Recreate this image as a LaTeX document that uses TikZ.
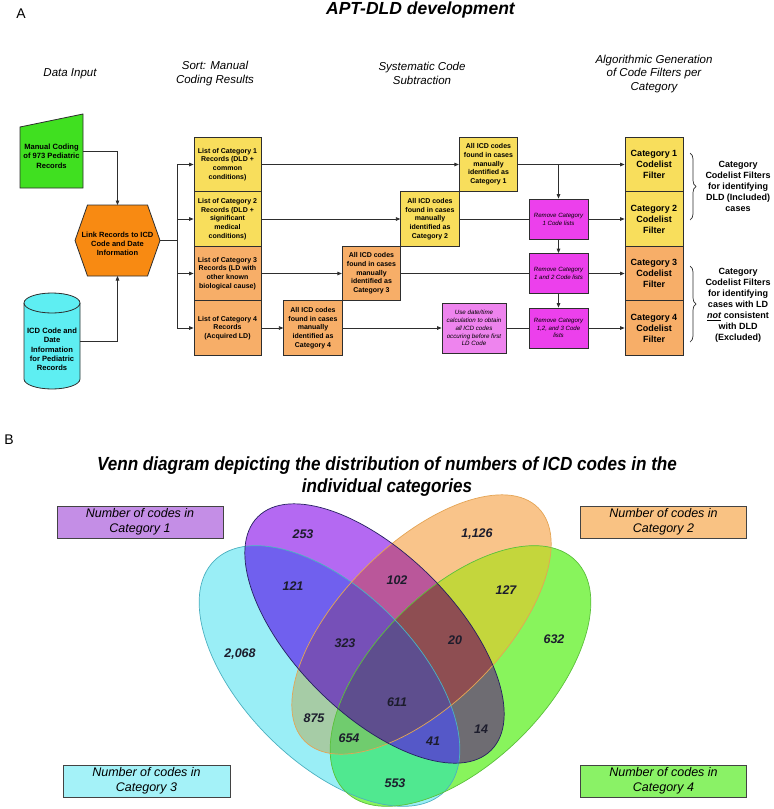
\documentclass[tikz,border=0pt]{standalone}
\usepackage{fontspec}
\setmainfont{Liberation Sans}
\newfontfamily\narrowsans[FakeStretch=0.9]{Liberation Sans}
\usetikzlibrary{arrows.meta,decorations.pathreplacing,calc}
\newcommand\setfs[2]{\fontsize{#1}{#2}\selectfont}
\definecolor{linec}{HTML}{2E2E2E}
\definecolor{yelc}{HTML}{F8DE5C}
\definecolor{orgc}{HTML}{F7AE68}
\definecolor{grnc}{HTML}{40E020}
\definecolor{hexc}{HTML}{F88A12}
\definecolor{cylc}{HTML}{5EEEF2}
\definecolor{magc}{HTML}{EC40EC}
\definecolor{pnkc}{HTML}{EE84EE}
\definecolor{cP}{HTML}{B469F2}
\definecolor{cO}{HTML}{F9C48A}
\definecolor{cC}{HTML}{9AEEF6}
\definecolor{cG}{HTML}{88F45C}
\definecolor{cPO}{HTML}{BA579A}
\definecolor{cPC}{HTML}{7060EE}
\definecolor{cPG}{HTML}{6E6C72}
\definecolor{cOC}{HTML}{A6CCA6}
\definecolor{cOG}{HTML}{C4D63C}
\definecolor{cCG}{HTML}{50E890}
\definecolor{cPOC}{HTML}{7650B8}
\definecolor{cPOG}{HTML}{8E4E52}
\definecolor{cPCG}{HTML}{5558C8}
\definecolor{cOCG}{HTML}{70CC6E}
\definecolor{cAll}{HTML}{5E4E8E}
\definecolor{eP}{HTML}{252060}
\definecolor{eO}{HTML}{E4A454}
\definecolor{eC}{HTML}{4CB0C0}
\definecolor{eG}{HTML}{5CC03C}
\definecolor{lP}{HTML}{C48EE6}
\definecolor{lO}{HTML}{F9C283}
\definecolor{lC}{HTML}{A4F2F8}
\definecolor{lG}{HTML}{8AF266}
\definecolor{numc}{HTML}{1C1C2C}
\newcommand\VP[1]{\path[#1,rotate around={-45:(374.5,633.5)}] (374.5,633.5) ellipse [x radius=165, y radius=80];}
\newcommand\VO[1]{\path[#1,rotate around={45:(421.5,624.5)}] (421.5,624.5) ellipse [x radius=165, y radius=80];}
\newcommand\VC[1]{\path[#1,rotate around={-45:(329.5,676)}] (329.5,676) ellipse [x radius=163, y radius=86];}
\newcommand\VG[1]{\path[#1,rotate around={45:(460.5,676)}] (460.5,676) ellipse [x radius=163, y radius=86];}
\begin{document}
\begin{tikzpicture}[x=1pt,y=-1pt,
  box/.style={draw=linec, line width=0.8pt, inner sep=0pt, align=center, font=\bfseries\setfs{7}{8.7}},
  lbox/.style={box, minimum width=67pt, minimum height=54.5pt},
  cbox/.style={box, minimum width=58.5pt, minimum height=54.5pt},
  fbox/.style={box, minimum width=58pt, minimum height=54.5pt, font=\bfseries\setfs{9}{11}},
  rbox/.style={box, fill=magc, minimum width=59pt, minimum height=40pt, font=\itshape\setfs{6.1}{7.8}},
  ghost/.style={inner sep=0pt, outer sep=0pt},
  shapeline/.style={draw=linec, line width=0.8pt},
  shapetext/.style={align=center, font=\bfseries\setfs{7.6}{9.3}},
  hdr/.style={align=center, font=\itshape\setfs{11.5}{13.7}},
  bracetext/.style={align=center, font=\bfseries\setfs{9}{11}},
  arr/.style={draw=linec, line width=0.8pt, -{Triangle[length=4.5pt,width=3.6pt]}},
  conn/.style={draw=linec, line width=0.8pt},
  brc/.style={draw=linec, line width=0.7pt, decorate, decoration={brace, amplitude=6pt}},
  vlab/.style={draw=linec!90, line width=0.8pt, inner sep=0pt, minimum width=166pt, minimum height=32pt, align=center, font=\itshape\setfs{12.5}{15.5}},
  vnum/.style={font=\bfseries\itshape\setfs{12.5}{14}, text=numc}
]
\useasboundingbox (0,0) rectangle (774,809);

% ---------- Part A titles ----------
\node[font=\setfs{14}{16}] (labA) at (21,14) {A};
\node[font=\bfseries\itshape\setfs{17.5}{20}] (titleA) at (420.5,10) {APT-DLD development};
\node[hdr] (h1) at (70,74) {Data Input};
\node[hdr] (h2) at (215,73.5) {Sort: Manual\\Coding Results};
\node[hdr] (h3) at (422,73.5) {Systematic Code\\Subtraction};
\node[hdr] (h4) at (654,74) {Algorithmic Generation\\of Code Filters per\\Category};

% ---------- input shapes ----------
\node[ghost, minimum width=63pt, minimum height=74pt] (manual) at (51.5,151) {};
\path[shapeline, fill=grnc] (manual.south west) -- ($(manual.north west)+(0,13)$) -- (manual.north east) -- (manual.south east) -- cycle;
\node[shapetext] (manualtxt) at (51.5,156) {Manual Coding\\of 973 Pediatric\\Records};

\node[ghost, minimum width=85pt, minimum height=71pt] (hex) at (117.5,240.5) {};
\path[shapeline, fill=hexc] (hex.west) -- ([xshift=12.5pt]hex.north west) -- ([xshift=-12.5pt]hex.north east) -- (hex.east) -- ([xshift=-12.5pt]hex.south east) -- ([xshift=12.5pt]hex.south west) -- cycle;
\node[shapetext, font=\bfseries\setfs{7.5}{9.3}] (hextxt) at (117.5,244) {Link Records to ICD\\Code and Date\\Information};

\node[ghost, minimum width=56pt, minimum height=96pt] (cyl) at (52,341) {};
\path[shapeline, fill=cylc] (24,303) -- (24,379) arc[start angle=180, end angle=0, x radius=28, y radius=10] -- (80,303) arc[start angle=0, end angle=-180, x radius=28, y radius=10] -- cycle;
\path[shapeline] (24,303) arc[start angle=180, end angle=0, x radius=28, y radius=10];
\node[shapetext] (cyltxt) at (52,349.5) {ICD Code and\\Date\\Information\\for Pediatric\\Records};

% ---------- list boxes ----------
\node[lbox, fill=yelc] (l1) at (227.5,164.5) {List of Category 1\\Records (DLD +\\common\\conditions)};
\node[lbox, fill=yelc] (l2) at (227.5,219) {List of Category 2\\Records (DLD +\\significant\\medical\\conditions)};
\node[lbox, fill=orgc] (l3) at (227.5,273.5) {List of Category 3\\Records (LD with\\other known\\biological cause)};
\node[lbox, fill=orgc] (l4) at (227.5,328) {List of Category 4\\Records\\(Acquired LD)};

% ---------- code boxes ----------
\node[cbox, fill=yelc] (c1) at (488.5,164.5) {All ICD codes\\found in cases\\manually\\identified as\\Category 1};
\node[cbox, fill=yelc] (c2) at (430,219) {All ICD codes\\found in cases\\manually\\identified as\\Category 2};
\node[cbox, fill=orgc] (c3) at (371.5,273.5) {All ICD codes\\found in cases\\manually\\identified as\\Category 3};
\node[cbox, fill=orgc] (c4) at (313,328) {All ICD codes\\found in cases\\manually\\identified as\\Category 4};

% ---------- subtraction boxes ----------
\node[rbox] (r1) at (558.5,219) {Remove Category\\1 Code lists};
\node[rbox] (r2) at (558.5,273.5) {Remove Category\\1 and 2 Code lists};
\node[rbox] (r3) at (558.5,328) {Remove Category\\1,2, and 3 Code\\lists};
\node[box, fill=pnkc, minimum width=64pt, minimum height=50pt, font=\itshape\setfs{6.2}{7.8}] (pk) at (474,328) {Use date/time\\calculation to obtain\\all ICD codes\\occuring before first\\LD Code};

% ---------- filter boxes ----------
\node[fbox, fill=yelc] (f1) at (654,164.5) {Category 1\\Codelist\\Filter};
\node[fbox, fill=yelc] (f2) at (654,219) {Category 2\\Codelist\\Filter};
\node[fbox, fill=orgc] (f3) at (654,273.5) {Category 3\\Codelist\\Filter};
\node[fbox, fill=orgc] (f4) at (654,328) {Category 4\\Codelist\\Filter};

% ---------- connectors ----------
\draw[arr] (manual.east) -| (hex.north);
\draw[arr] (cyl.east) -| (hex.south);
\coordinate (split) at (177,240.5);
\draw[conn] (hex.east) -- (split);
\draw[arr] (split) |- (l1.west);
\draw[arr] (split) |- (l2.west);
\draw[arr] (split) |- (l3.west);
\draw[arr] (split) |- (l4.west);
\draw[arr] (l1.east) -- (c1.west);
\draw[arr] (l2.east) -- (c2.west);
\draw[arr] (l3.east) -- (c3.west);
\draw[arr] (l4.east) -- (c4.west);
\draw[arr] (c1.east) -- (f1.west);
\draw[arr] (c1.east -| r1.north) -- (r1.north);
\draw[conn] (c2.east) -- (r1.west);
\draw[arr] (r1.east) -- (f2.west);
\draw[arr] (r1.south) -- (r2.north);
\draw[arr] (r2.south) -- (r3.north);
\draw[conn] (c3.east) -- (r2.west);
\draw[arr] (r2.east) -- (f3.west);
\draw[arr] (c4.east) -- (pk.west);
\draw[conn] (pk.east) -- (r3.west);
\draw[arr] (r3.east) -- (f4.west);

% ---------- braces ----------
\coordinate (b1s) at (690,153);
\coordinate (b1e) at (690,220);
\coordinate (b2s) at (690,266);
\coordinate (b2e) at (690,342);
\draw[brc] (b1s) -- (b1e);
\draw[brc] (b2s) -- (b2e);
\node[bracetext] (bt1) at (738,186) {Category\\Codelist Filters\\for identifying\\DLD (Included)\\cases};
\node[bracetext] (bt2) at (738,305) {Category\\Codelist Filters\\for identifying\\cases with LD\\\underline{\textit{not}} consistent\\with DLD\\(Excluded)};

% ---------- Part B ----------
\node[font=\setfs{14}{16}] (labB) at (9,440) {B};
\node[align=center, font=\narrowsans\bfseries\itshape\setfs{19}{22}] (titleB) at (387,477) {Venn diagram depicting the distribution of numbers of ICD codes in the\\individual categories};

% region fills
\VP{fill=cP}
\VO{fill=cO}
\VC{fill=cC}
\VG{fill=cG}
\begin{scope}\VP{clip}\VO{fill=cPO}\end{scope}
\begin{scope}\VP{clip}\VC{fill=cPC}\end{scope}
\begin{scope}\VP{clip}\VG{fill=cPG}\end{scope}
\begin{scope}\VO{clip}\VC{fill=cOC}\end{scope}
\begin{scope}\VO{clip}\VG{fill=cOG}\end{scope}
\begin{scope}\VC{clip}\VG{fill=cCG}\end{scope}
\begin{scope}\VP{clip}\VO{clip}\VC{fill=cPOC}\end{scope}
\begin{scope}\VP{clip}\VO{clip}\VG{fill=cPOG}\end{scope}
\begin{scope}\VP{clip}\VC{clip}\VG{fill=cPCG}\end{scope}
\begin{scope}\VO{clip}\VC{clip}\VG{fill=cOCG}\end{scope}
\begin{scope}\VP{clip}\VO{clip}\VC{clip}\VG{fill=cAll}\end{scope}
\VC{draw=eC, line width=0.7pt}
\VG{draw=eG, line width=0.7pt}
\VO{draw=eO, line width=0.7pt}
\VP{draw=eP, line width=0.7pt}

% labels
\node[vlab, fill=lP] (v1) at (140,522) {Number of codes in\\Category 1};
\node[vlab, fill=lO] (v2) at (663.5,522) {Number of codes in\\Category 2};
\node[vlab, fill=lC, minimum width=167pt] (v3) at (146.5,781) {Number of codes in\\Category 3};
\node[vlab, fill=lG] (v4) at (663.5,781) {Number of codes in\\Category 4};

% numbers
\node[vnum] (n253) at (303,534) {253};
\node[vnum] (n121) at (293,586) {121};
\node[vnum] (n2068) at (240,654) {2,068};
\node[vnum] (n323) at (345,643) {323};
\node[vnum] (n875) at (314,718) {875};
\node[vnum] (n654) at (349,738) {654};
\node[vnum] (n553) at (395,783) {553};
\node[vnum] (n611) at (397,702) {611};
\node[vnum] (n41) at (433,741) {41};
\node[vnum] (n14) at (481,729) {14};
\node[vnum] (n20) at (455,640) {20};
\node[vnum] (n102) at (397,580) {102};
\node[vnum] (n1126) at (477,534) {1,126};
\node[vnum] (n127) at (506,590) {127};
\node[vnum] (n632) at (554,639) {632};
\end{tikzpicture}
\end{document}
